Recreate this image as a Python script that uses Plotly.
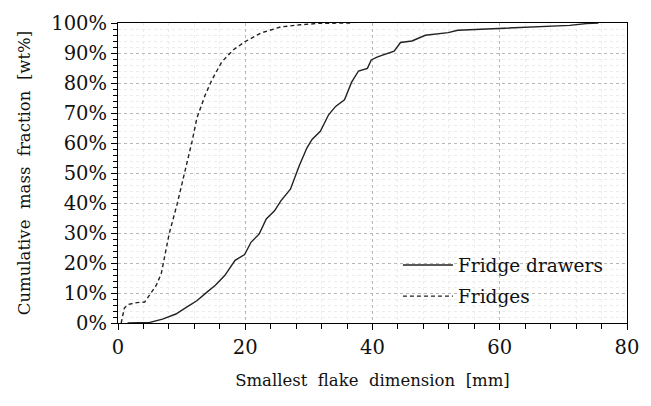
import plotly.graph_objects as go

# Fridge drawers (solid) - smallest flake dimension [mm] vs cumulative mass fraction [%]
drawers_x = [1.5, 3, 5, 7, 9.1, 11.1, 12.4, 13.7, 15.3, 16.8, 18.4, 19.9, 20.9, 22.2, 23.3, 24.6,
             25.6, 27.1, 27.9, 28.5, 29.7, 30.5, 31.8, 33.1, 34.2, 35.6, 36.7, 37.8, 39.2, 39.8,
             40.8, 43.4, 44.4, 46.2, 48.3, 51.9, 53.4, 59.6, 66.8, 71, 73.6, 75.5]
drawers_y = [0, 0.05, 0.2, 1.3, 3, 5.7, 7.4, 9.8, 12.6, 15.9, 20.9, 22.8, 26.9, 29.7, 34.7, 37.4,
             40.7, 44.6, 49, 52.5, 58.4, 61.2, 63.9, 69.4, 72.2, 74.4, 80.2, 84.0, 84.9, 87.7,
             88.7, 90.6, 93.5, 94, 95.9, 96.8, 97.6, 98.1, 98.7, 99.2, 99.8, 100]

# Fridges (dashed)
fridges_x = [0.5, 1.0, 1.6, 3.0, 4.2, 5.0, 6.0, 6.8, 8.05, 9.3, 10.8, 11.65, 12.4, 13.7, 14.75,
             16.3, 18.1, 19.9, 22.5, 25.6, 28.6, 31.7, 37]
fridges_y = [0, 5, 6.2, 6.8, 7, 9.3, 12.5, 16.5, 29.8, 39.7, 52.9, 60.6, 68.3, 76, 81,
             87, 91, 93.7, 96.7, 98.7, 99.4, 99.9, 100]

x_ticks = [0, 20, 40, 60, 80]
y_ticks = [i / 10 for i in range(11)]

FONT = "DejaVu Serif, serif"

fig = go.Figure()
fig.add_trace(go.Scatter(x=drawers_x, y=[v / 100 for v in drawers_y], mode="lines",
                         name="Fridge drawers", legendgroup="a",
                         line=dict(color="#222222", width=1.4)))
fig.add_trace(go.Scatter(x=fridges_x, y=[v / 100 for v in fridges_y], mode="lines",
                         name="Fridges", legendgroup="b",
                         line=dict(color="#222222", width=1.4, dash="4px,3px")))

fig.update_layout(
    width=651, height=406,
    margin=dict(l=118, r=16, t=21, b=83),
    paper_bgcolor="white", plot_bgcolor="white",
    font=dict(family=FONT, size=19, color="#111111"),
    showlegend=True,
    legend=dict(x=0.55, y=0.255, xanchor="left", yanchor="top",
                bgcolor="rgba(255,255,255,0)", font=dict(family=FONT, size=18.5),
                traceorder="grouped", tracegroupgap=4, itemwidth=50),
    xaxis=dict(
        range=[0, 80], tickvals=x_ticks, ticktext=[str(v) for v in x_ticks],
        tickfont=dict(family=FONT, size=19.5),
        showline=True, linecolor="black", linewidth=1.2, mirror=True,
        ticks="outside", ticklen=6, tickcolor="black",
        showgrid=True, gridcolor="#b8b8b8", griddash="dot", gridwidth=1,
        minor=dict(dtick=4, showgrid=True, gridcolor="#ececec", ticks="outside",
                   ticklen=5, tickcolor="black"),
        zeroline=False,
        title=dict(text="Smallest  flake  dimension  [mm]", standoff=16,
                   font=dict(family=FONT, size=16.5)),
    ),
    yaxis=dict(
        range=[0, 1], tickvals=y_ticks, tickformat=".0%",
        tickfont=dict(family=FONT, size=19.5),
        showline=True, linecolor="black", linewidth=1.2, mirror=True,
        ticks="outside", ticklen=6, tickcolor="black",
        showgrid=True, gridcolor="#b8b8b8", griddash="dot", gridwidth=1,
        minor=dict(dtick=0.02, showgrid=True, gridcolor="#ececec", ticks="outside",
                   ticklen=4, tickcolor="black"),
        zeroline=False,
        title=dict(text="Cumulative  mass  fraction  [wt%]", standoff=16,
                   font=dict(family=FONT, size=16.5)),
    ),
)

fig.write_html("out.html")
